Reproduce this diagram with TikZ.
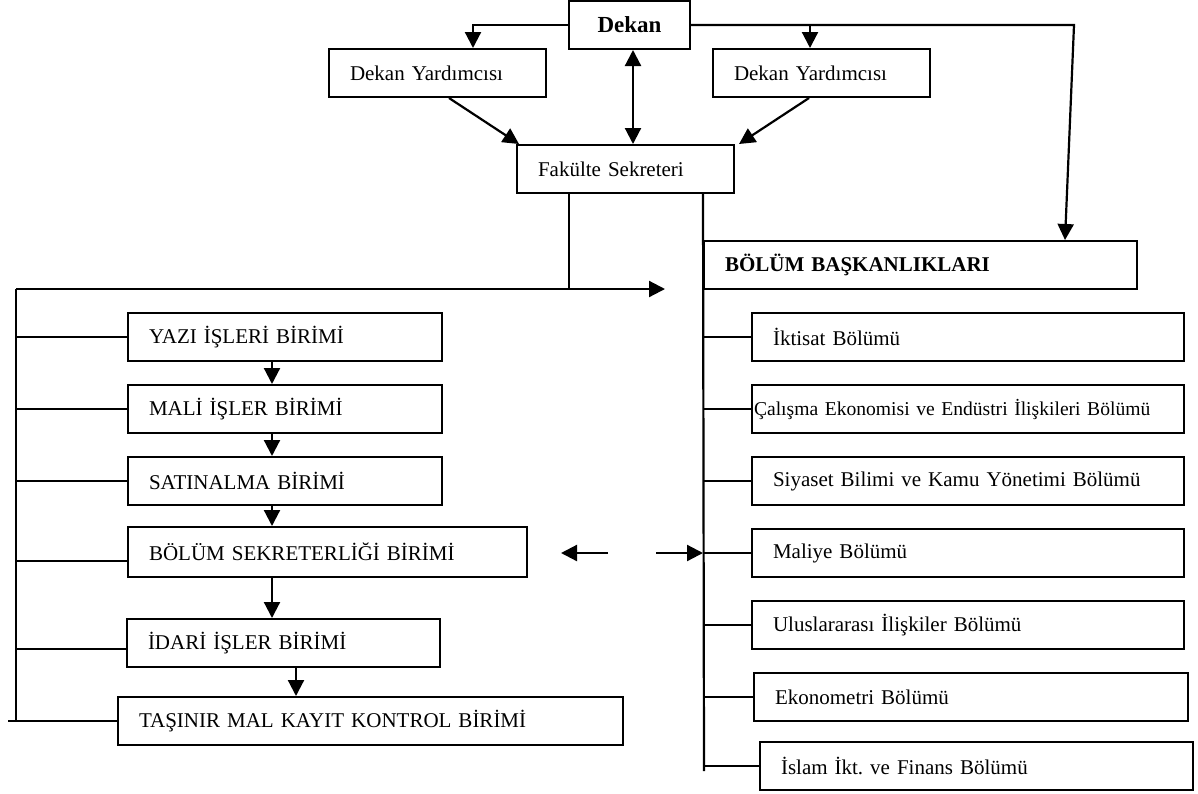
\documentclass[tikz,border=0pt]{standalone}
\usepackage{fontspec}
\setmainfont{Liberation Serif}
\usetikzlibrary{arrows.meta}
\frenchspacing

\tikzset{
    unit/.style={rectangle, draw, line width=1pt, minimum height=24pt, inner xsep=10.5pt, align=left, font=\fontsize{10.5}{12}\selectfont},
}

\begin{document}
\begin{tikzpicture}[x=0.5pt, y=-0.5pt, line width=1.1pt, >={Triangle[length=8pt, width=8pt]}]
    \useasboundingbox (0,0) rectangle (1198,793);

    \node[rectangle, draw, line width=1pt, minimum width=60.5pt, minimum height=24pt, font=\fontsize{11.5}{13}\selectfont\bfseries] (dekan) at (629.5,25) {Dekan};
    \node[unit, text width=87.5pt] (dy1) at (437.5,73) {Dekan Yardımcısı};
    \node[unit, text width=87.5pt] (dy2) at (821.5,73) {Dekan Yardımcısı};
    \node[unit, text width=87.5pt] (fs) at (625.5,169) {Fakülte Sekreteri};
    \node[unit, text width=195.5pt, font=\fontsize{10.5}{12}\selectfont\bfseries] (bb) at (920.5,265) {BÖLÜM BAŞKANLIKLARI};

    \node[unit, text width=195pt] (iktisat) at (968,337) {İktisat Bölümü};
    \node[unit, text width=214pt, inner xsep=1pt, font=\fontsize{9.8}{12}\selectfont] (calisma) at (968,409) {Çalışma Ekonomisi ve Endüstri İlişkileri Bölümü};
    \node[unit, text width=195pt] (siyaset) at (968,481) {Siyaset Bilimi ve Kamu Yönetimi Bölümü};
    \node[unit, text width=195pt] (maliye) at (968,553) {Maliye Bölümü};
    \node[unit, text width=195pt] (ulus) at (968,625) {Uluslararası İlişkiler Bölümü};
    \node[unit, text width=196pt] (ekono) at (971,697) {Ekonometri Bölümü};
    \node[unit, text width=195.5pt] (islam) at (976.5,766) {İslam İkt. ve Finans Bölümü};

    \node[unit, text width=136pt] (yazi) at (285,337) {YAZI İŞLERİ BİRİMİ};
    \node[unit, text width=136pt] (mali) at (285,409) {MALİ İŞLER BİRİMİ};
    \node[unit, text width=136pt] (satin) at (285,481) {SATINALMA BİRİMİ};
    \node[unit, text width=178.5pt, minimum height=25pt] (bsek) at (327.5,552) {BÖLÜM SEKRETERLİĞİ BİRİMİ};
    \node[unit, text width=135.5pt] (idari) at (283.5,643) {İDARİ İŞLER BİRİMİ};
    \node[unit, text width=231.5pt] (tasinir) at (370.5,721) {TAŞINIR MAL KAYIT KONTROL BİRİMİ};

    \coordinate (rc) at (1074,25);
    \coordinate (dy2in) at ([xshift=-5.75pt]dy2.north);
    \coordinate (fsl) at ([xshift=-28.25pt]fs.south);
    \coordinate (ltop) at (16,289);
    \coordinate (htip) at (665,289);
    \coordinate (lstub) at (8,721);
    \coordinate (rbot) at (704,771);
    \coordinate (bsekw) at ([yshift=-4.5pt]bsek.west);
    \coordinate (idariw) at ([yshift=-3pt]idari.west);
    \coordinate (colx) at (272,0);
    \coordinate (colx2) at (296,0);
    \coordinate (la) at (608,553);
    \coordinate (lb) at (561,553);
    \coordinate (ra) at (656,553);

    \draw[->] (dekan.west) -| ([xshift=17.75pt]dy1.north);
    \draw[->] (dekan.east) -- (rc) -- ([xshift=72.25pt]bb.north);
    \draw[->] (dekan.east -| dy2in) -- (dy2in);
    \draw[<->] ([xshift=1.75pt]dekan.south) -- ([xshift=3.75pt]fs.north);
    \draw[->] ([xshift=5.75pt]dy1.south) -- ([xshift=1.5pt]fs.north west);
    \draw[->] ([xshift=-6.25pt]dy2.south) -- ([xshift=2pt]fs.north east);

    \draw (fsl) -- (fsl |- ltop);
    \draw[->] (ltop) -- (htip);
    \draw (ltop) -- (ltop |- tasinir.west);
    \foreach \b in {yazi, mali, satin}
        \draw (ltop |- \b.west) -- (\b.west);
    \draw (ltop |- bsekw) -- (bsekw);
    \draw (ltop |- idariw) -- (idariw);
    \draw (lstub) -- (tasinir.west);

    \draw (fs.south -| bb.west) -- (rbot);
    \foreach \b in {iktisat, calisma, siyaset, maliye, ulus, ekono, islam}
        \draw (bb.west |- \b.west) -- (\b.west);

    \draw[->] (yazi.south -| colx) -- (mali.north -| colx);
    \draw[->] (mali.south -| colx) -- (satin.north -| colx);
    \draw[->] (satin.south -| colx) -- (bsek.north -| colx);
    \draw[->] (bsek.south -| colx) -- (idari.north -| colx);
    \draw[->] (idari.south -| colx2) -- (tasinir.north -| colx2);

    \draw[->] (la) -- (lb);
    \draw[->] (ra) -- (maliye.west -| bb.west);
\end{tikzpicture}
\end{document}
